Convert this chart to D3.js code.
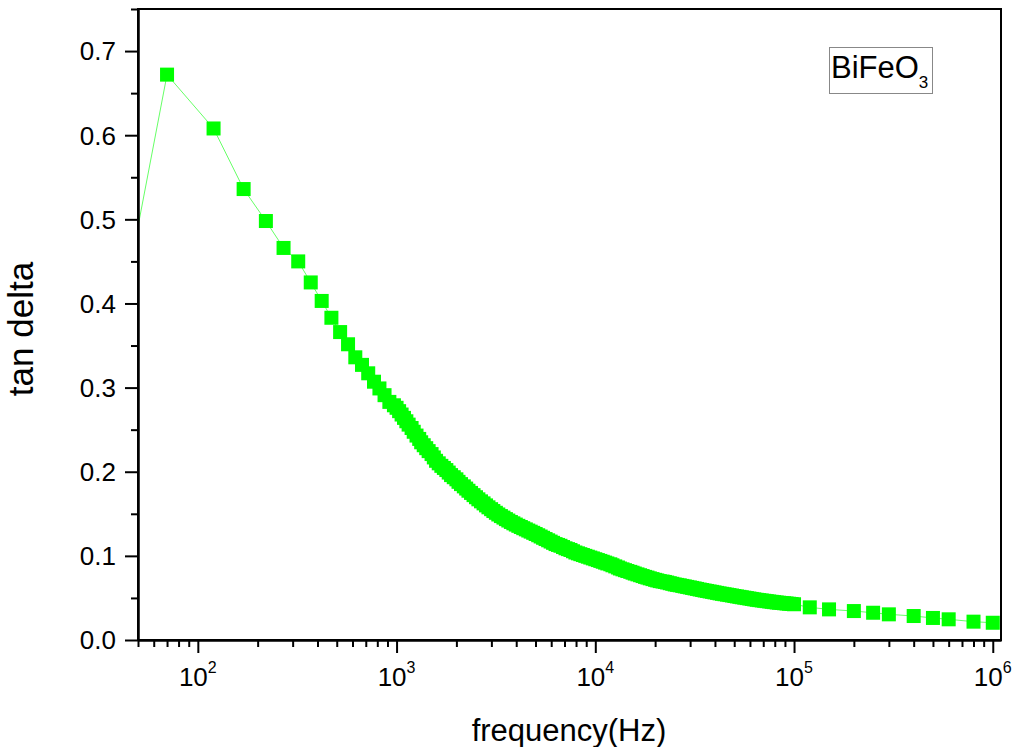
<!DOCTYPE html>
<html>
<head>
<meta charset="utf-8">
<script src="https://cdn.jsdelivr.net/npm/d3@7"></script>
<style>
  body { margin: 0; background: #fff; }
  text { font-family: "Liberation Sans", Arial, sans-serif; fill: #000; }
</style>
</head>
<body>
<svg width="1016" height="747"></svg>
<script>
// low range sweep (50 Hz steps)
var freqLow = [20, 70, 120, 170, 220, 270, 320, 370, 420, 470, 520, 570, 620, 670, 720, 770, 820, 870, 920, 970];
var tanLow = [0.0, 0.672, 0.608, 0.536, 0.498, 0.466, 0.450, 0.425, 0.403, 0.383, 0.366, 0.3515, 0.336, 0.327, 0.317, 0.307, 0.299, 0.291, 0.283, 0.279];

// dense part, 1 kHz .. 100 kHz
var freqMid = [1000, 1030, 1060, 1090, 1120, 1150, 1190, 1220, 1260, 1300, 1330, 1370, 1410, 1450, 1500, 1540, 1580, 1630, 1680, 1730,
    1780, 1830, 1880, 1940, 2000, 2050, 2110, 2180, 2240, 2300, 2370, 2440, 2510, 2580, 2660, 2740, 2820, 2900, 2990, 3070,
    3160, 3250, 3350, 3450, 3550, 3650, 3760, 3870, 3980, 4100, 4220, 4340, 4470, 4600, 4730, 4870, 5010, 5160, 5310, 5460,
    5620, 5790, 5960, 6130, 6310, 6490, 6680, 6880, 7080, 7290, 7500, 7720, 7940, 8180, 8410, 8660, 8910, 9170, 9440, 9720,
    10000, 10300, 10600, 10900, 11200, 11500, 11900, 12200, 12600, 13000, 13300, 13700, 14100, 14500, 15000, 15400, 15800, 16300, 16800, 17300,
    17800, 18300, 18800, 19400, 20000, 20500, 21100, 21800, 22400, 23000, 23700, 24400, 25100, 25800, 26600, 27400, 28200, 29000, 29900, 30700,
    31600, 32500, 33500, 34500, 35500, 36500, 37600, 38700, 39800, 41000, 42200, 43400, 44700, 46000, 47300, 48700, 50100, 51600, 53100, 54600,
    56200, 57900, 59600, 61300, 63100, 64900, 66800, 68800, 70800, 72900, 75000, 77200, 79400, 81800, 84100, 86600, 89100, 91700, 94400, 97200, 100000];
var tanMid = [0.276, 0.272, 0.268, 0.264, 0.260, 0.256, 0.252, 0.2475, 0.243, 0.239, 0.235, 0.2315, 0.228, 0.2245, 0.221, 0.217, 0.213, 0.210, 0.207, 0.2045,
    0.202, 0.199, 0.196, 0.1935, 0.191, 0.188, 0.1853, 0.1826, 0.180, 0.1774, 0.1748, 0.1722, 0.1697, 0.1672, 0.1648, 0.1624, 0.160, 0.1577, 0.1555, 0.1533,
    0.1512, 0.1492, 0.1473, 0.1455, 0.1437, 0.142, 0.1403, 0.1387, 0.1372, 0.1357, 0.1343, 0.1329, 0.1315, 0.1301, 0.1288, 0.1274, 0.126, 0.1245, 0.123, 0.1215,
    0.120, 0.1185, 0.117, 0.1155, 0.114, 0.113, 0.112, 0.1105, 0.109, 0.108, 0.107, 0.1055, 0.104, 0.103, 0.102, 0.101, 0.100, 0.099, 0.098, 0.097,
    0.096, 0.095, 0.094, 0.093, 0.092, 0.091, 0.090, 0.0888, 0.0875, 0.0862, 0.085, 0.084, 0.083, 0.082, 0.081, 0.080, 0.079, 0.078, 0.077, 0.076,
    0.075, 0.0742, 0.0733, 0.0724, 0.0715, 0.0708, 0.070, 0.0695, 0.069, 0.0683, 0.0675, 0.0668, 0.066, 0.0655, 0.065, 0.0643, 0.0637, 0.0631, 0.0625, 0.0619,
    0.0613, 0.0607, 0.060, 0.0594, 0.0588, 0.0583, 0.0577, 0.0572, 0.0566, 0.056, 0.0554, 0.0549, 0.0544, 0.0539, 0.0534, 0.0529, 0.0523, 0.0518, 0.0513, 0.0508,
    0.0503, 0.0498, 0.0493, 0.0488, 0.0483, 0.0478, 0.0474, 0.047, 0.0466, 0.0462, 0.0458, 0.0454, 0.0450, 0.0446, 0.0443, 0.044, 0.0437, 0.0434, 0.0431, 0.0428, 0.0425];

// high range
var freqHigh = [120000, 150000, 200000, 250000, 300000, 400000, 500000, 600000, 800000, 1000000];
var tanHigh = [0.0388, 0.0364, 0.0344, 0.0324, 0.0305, 0.0285, 0.0262, 0.0246, 0.0218, 0.0205];

var yTicks = [0.0, 0.1, 0.2, 0.3, 0.4, 0.5, 0.6, 0.7];
var yTickLabels = ["0.0", "0.1", "0.2", "0.3", "0.4", "0.5", "0.6", "0.7"];
var xTicks = [1e2, 1e3, 1e4, 1e5, 1e6];
var xTickExp = ["2", "3", "4", "5", "6"];

var svg = d3.select("svg"),
    margin = {top: 9, right: 15, bottom: 107, left: 138},
    width = +svg.attr("width") - margin.left - margin.right,
    height = +svg.attr("height") - margin.top - margin.bottom,
    g = svg.append("g").attr("transform", "translate(" + margin.left + "," + margin.top + ")");

var data = [];
freqLow.forEach(function (f, i) { data.push({f: f, v: tanLow[i]}); });
freqMid.forEach(function (f, i) { data.push({f: f, v: tanMid[i]}); });
freqHigh.forEach(function (f, i) { data.push({f: f, v: tanHigh[i]}); });

var x = d3.scaleLog().domain([50, 1.1e6]).range([0, width]);
var y = d3.scaleLinear().domain([0, 0.75]).range([height, 0]);

svg.append("defs").append("clipPath").attr("id", "clip")
    .append("rect").attr("width", width).attr("height", height);

var plot = g.append("g").attr("clip-path", "url(#clip)");

plot.append("path")
    .datum(data)
    .attr("fill", "none")
    .attr("stroke", "#66ff66")
    .attr("stroke-width", 1)
    .attr("d", d3.line().x(function (d) { return x(d.f); }).y(function (d) { return y(d.v); }));

plot.selectAll(".pt")
    .data(data)
    .enter().append("rect")
        .attr("class", "pt")
        .attr("x", function (d) { return x(d.f) - 7; })
        .attr("y", function (d) { return y(d.v) - 7; })
        .attr("width", 14)
        .attr("height", 14)
        .attr("fill", "#00ff00");

// minor ticks
var yMinor = yTicks.map(function (t) { return t + 0.05; });
var xMinor = x.ticks().filter(function (t) { return xTicks.indexOf(t) < 0; });

function styleAxis (sel) {
    sel.selectAll("path").attr("stroke", "#000").attr("stroke-width", 2);
    sel.selectAll("line").attr("stroke", "#000").attr("stroke-width", 2);
    sel.selectAll("text").remove();
}

g.append("g").attr("transform", "translate(0," + height + ")")
    .call(d3.axisBottom(x).tickValues(xMinor).tickSize(7).tickSizeOuter(0))
    .call(styleAxis);
g.append("g").attr("transform", "translate(0," + height + ")")
    .call(d3.axisBottom(x).tickValues(xTicks).tickSize(13).tickSizeOuter(0))
    .call(styleAxis);
g.append("g")
    .call(d3.axisLeft(y).tickValues(yMinor).tickSize(7).tickSizeOuter(0))
    .call(styleAxis);
g.append("g")
    .call(d3.axisLeft(y).tickValues(yTicks).tickSize(13).tickSizeOuter(0))
    .call(styleAxis);

// frame
g.append("rect")
    .attr("width", width)
    .attr("height", height)
    .attr("fill", "none")
    .attr("stroke", "#000")
    .attr("stroke-width", 2);

// tick labels
g.selectAll(".ylab")
    .data(yTicks)
    .enter().append("text")
        .attr("class", "ylab")
        .attr("x", -22)
        .attr("y", function (d) { return y(d); })
        .attr("dy", "0.36em")
        .attr("text-anchor", "end")
        .style("font-size", "26px")
        .text(function (d, i) { return yTickLabels[i]; });

var xl = g.selectAll(".xlab")
    .data(xTicks)
    .enter().append("text")
        .attr("class", "xlab")
        .attr("x", function (d) { return x(d); })
        .attr("y", height + 46)
        .attr("text-anchor", "middle")
        .style("font-size", "26px");
xl.append("tspan").text("10");
xl.append("tspan")
    .attr("dy", -13)
    .style("font-size", "16px")
    .text(function (d, i) { return xTickExp[i]; });

// axis titles
svg.append("text")
    .attr("x", 569)
    .attr("y", 741)
    .attr("text-anchor", "middle")
    .style("font-size", "31px")
    .text("frequency(Hz)");

svg.append("text")
    .attr("transform", "translate(33,329) rotate(-90)")
    .attr("text-anchor", "middle")
    .style("font-size", "35px")
    .text("tan delta");

// legend
var leg = svg.append("g");
leg.append("rect")
    .attr("x", 829.5)
    .attr("y", 47.5)
    .attr("width", 103)
    .attr("height", 46)
    .attr("fill", "#fff")
    .attr("stroke", "#888")
    .attr("stroke-width", 1);
var lt = leg.append("text")
    .attr("x", 831)
    .attr("y", 78)
    .style("font-size", "31px");
lt.append("tspan").text("BiFeO");
lt.append("tspan")
    .attr("dy", 10)
    .style("font-size", "17px")
    .text("3");
</script>
</body>
</html>
